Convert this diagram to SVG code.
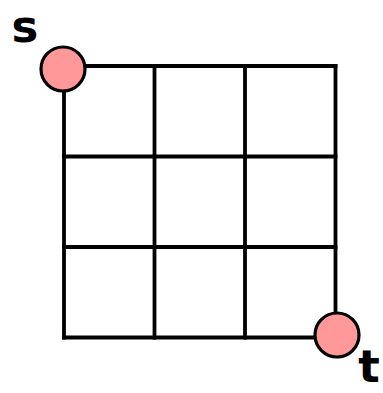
<svg xmlns="http://www.w3.org/2000/svg" width="383" height="393" viewBox="0 0 383 393">
<style>
.grid{stroke:#000;stroke-width:3.8;fill:none;stroke-linecap:square}
.node{fill:#FF9999;stroke:#000;stroke-width:3.2}
.lbl{font-family:"Comic Sans MS","DejaVu Sans",sans-serif;font-weight:bold;font-size:45px;fill:#000;text-anchor:middle}
</style>
<rect width="383" height="393" fill="#fff"/>
<g id="connectors" class="grid">
<path d="M64 66H335.5M64 156.5H335.5M64 247H335.5M64 337.5H335.5"/>
<path d="M64 66V337.5M154.5 66V337.5M245 66V337.5M335.5 66V337.5"/>
</g>
<g id="s">
<circle class="node" cx="63" cy="69" r="22"/>
<text class="lbl" x="25" y="42">s</text>
</g>
<g id="t">
<circle class="node" cx="337" cy="335" r="22"/>
<text class="lbl" x="369" y="382">t</text>
</g>
</svg>
